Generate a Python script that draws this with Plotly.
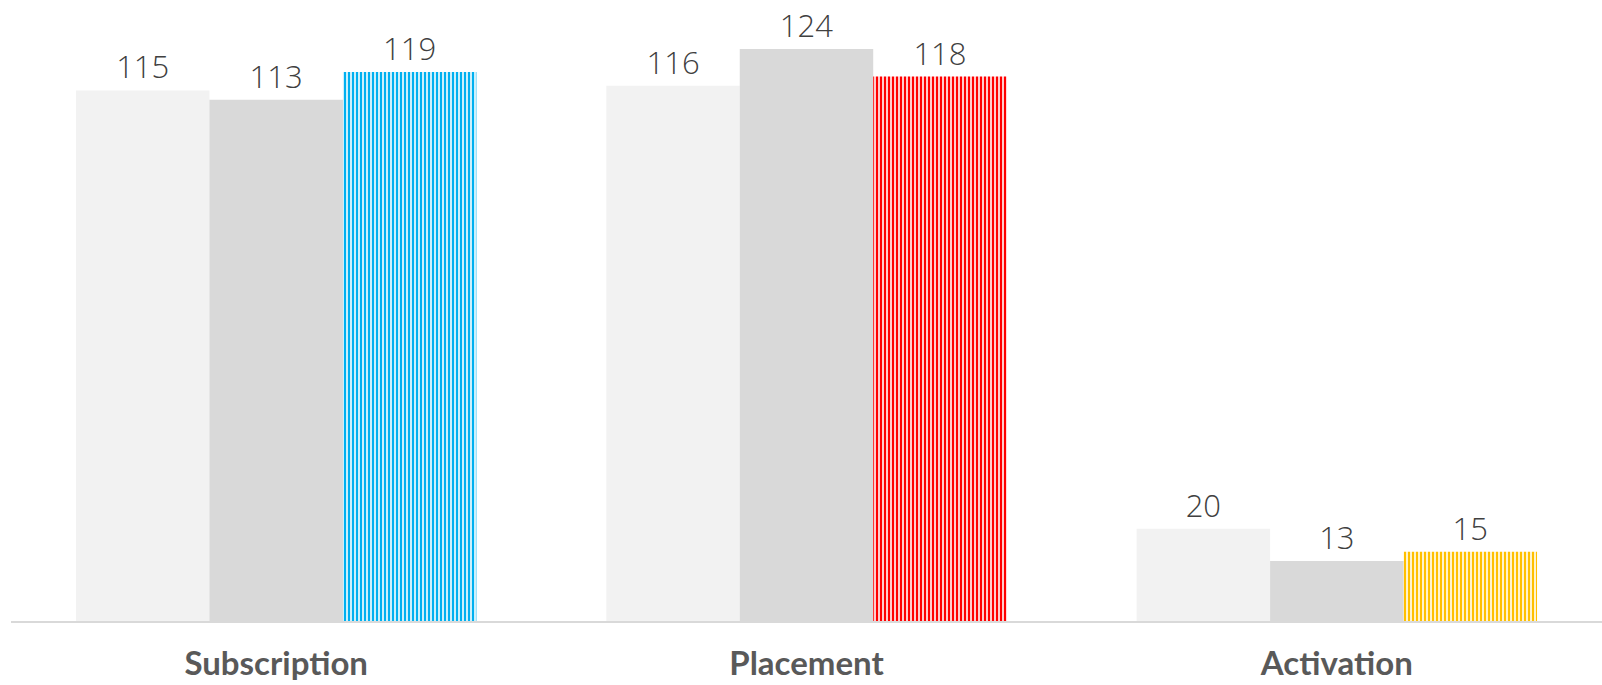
import plotly.graph_objects as go

categories = ["Subscription", "Placement", "Activation"]
series_a = [115, 116, 20]
series_b = [113, 124, 13]
series_c = [119, 118, 15]
stripe_colors = ["#00B0F0", "#FF0000", "#FFC000"]

label_font = dict(family="Open Sans", size=31, color="#404040", weight=300)

fig = go.Figure()
fig.add_trace(go.Bar(x=categories, y=series_a, marker=dict(color="#F2F2F2", line=dict(width=0)),
                     text=series_a, textposition="outside", textfont=label_font, cliponaxis=False))
fig.add_trace(go.Bar(x=categories, y=series_b, marker=dict(color="#D9D9D9", line=dict(width=0)),
                     text=series_b, textposition="outside", textfont=label_font, cliponaxis=False))
fig.add_trace(go.Bar(x=categories, y=series_c,
                     marker=dict(color=stripe_colors, line=dict(width=0),
                                 pattern=dict(shape="|", fgcolor="#FFFFFF", bgcolor=stripe_colors,
                                              fgopacity=1, size=4, solidity=0.6, fillmode="replace")),
                     text=series_c, textposition="outside", textfont=label_font, cliponaxis=False))

fig.update_layout(
    width=1602, height=685,
    margin=dict(l=11, r=0, t=0, b=64),
    paper_bgcolor="white", plot_bgcolor="white",
    barmode="group", bargap=0.245, bargroupgap=0,
    showlegend=False,
    xaxis=dict(showline=True, linecolor="#D9D9D9", linewidth=2, ticks="",
               tickfont=dict(family="Lato", size=33, color="#595959", weight="bold"),
               ticklabelstandoff=12, showgrid=False),
    yaxis=dict(visible=False, range=[0, 134.6], showgrid=False, zeroline=False),
)

fig.write_html("out.html", config={"displayModeBar": False},
               post_script="document.body.style.margin='0';")
